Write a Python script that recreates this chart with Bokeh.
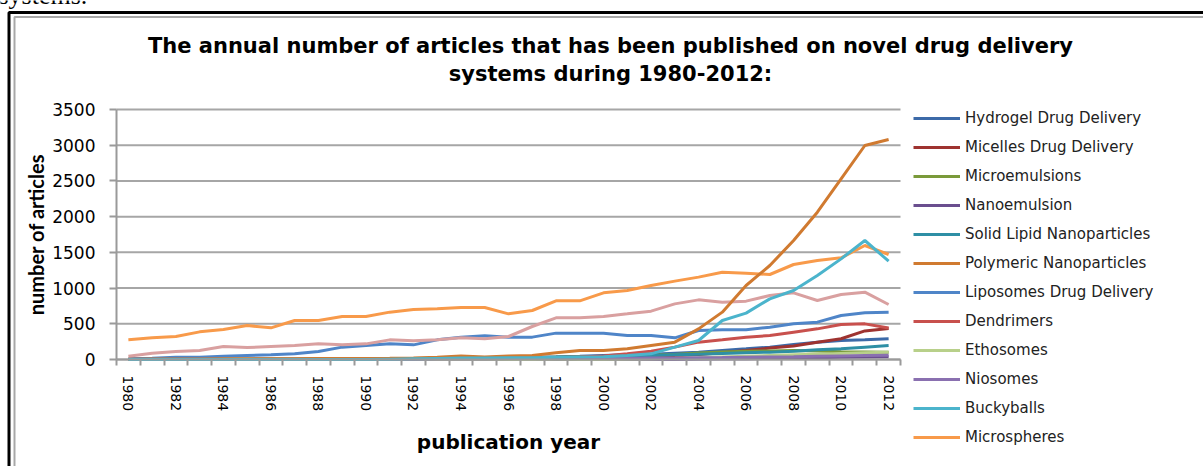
import numpy as np
from bokeh.plotting import figure
from bokeh.models import (FixedTicker, Legend, LegendItem, Label, BoxAnnotation,
                          ColumnDataSource)
from bokeh.embed import file_html
from bokeh.resources import INLINE

years = list(range(1980, 2013))

hydrogel = [2, 3, 3, 4, 5, 5, 6, 6, 7, 8, 10, 12, 14, 17, 20, 24, 28, 32, 38, 45,
            55, 65, 75, 89, 103, 126, 149, 173, 210, 243, 266, 275, 289]
micelles = [0, 0, 0, 0, 0, 0, 0, 0, 0, 1, 1, 2, 2, 3, 4, 5, 6, 8, 10, 13,
            18, 25, 35, 50, 70, 95, 125, 160, 190, 240, 290, 400, 435]
microemulsions = [1, 1, 2, 2, 3, 3, 4, 5, 6, 7, 8, 10, 12, 14, 16, 18, 22, 25, 30, 35,
                  40, 50, 60, 70, 90, 105, 115, 120, 125, 118, 110, 105, 100]
nanoemulsion = [0, 0, 0, 0, 0, 0, 0, 0, 0, 0, 0, 0, 0, 0, 0, 0, 1, 1, 1, 2,
                2, 3, 4, 5, 7, 9, 12, 16, 20, 25, 30, 35, 40]
solid_lipid = [0, 0, 0, 0, 0, 0, 0, 0, 0, 0, 0, 0, 1, 2, 3, 5, 8, 12, 18, 25,
               35, 45, 55, 65, 75, 85, 95, 103, 117, 135, 150, 173, 196]
polymeric = [5, 6, 7, 8, 9, 10, 11, 12, 13, 14, 15, 17, 20, 30, 50, 35, 50, 56, 93, 126,
             126, 149, 196, 243, 429, 663, 1036, 1316, 1666, 2062, 2529, 2996, 3080]
liposomes = [9, 19, 33, 33, 47, 56, 65, 79, 112, 173, 196, 219, 205, 275, 313, 331, 313, 313, 369, 369,
             369, 336, 336, 303, 406, 415, 415, 453, 499, 523, 616, 653, 663]
dendrimers = [0, 0, 0, 0, 0, 0, 0, 0, 0, 0, 0, 1, 2, 3, 5, 8, 12, 18, 25, 35,
              50, 79, 117, 173, 243, 275, 313, 336, 383, 429, 490, 499, 440]
ethosomes = [0, 0, 0, 0, 0, 0, 0, 0, 0, 0, 0, 0, 0, 0, 0, 0, 0, 1, 2, 3,
             5, 8, 12, 18, 25, 35, 45, 55, 65, 75, 85, 95, 100]
niosomes = [0, 0, 0, 0, 0, 0, 1, 1, 2, 2, 3, 4, 5, 6, 7, 8, 9, 10, 12, 14,
            16, 18, 20, 22, 25, 28, 32, 36, 40, 45, 50, 55, 60]
buckyballs = [0, 0, 0, 0, 0, 0, 0, 0, 0, 0, 0, 5, 10, 15, 20, 20, 25, 25, 30, 35,
              40, 55, 79, 173, 266, 546, 649, 849, 966, 1176, 1409, 1666, 1377]
microspheres = [276, 303, 322, 387, 420, 476, 443, 546, 546, 602, 602, 663, 700, 709, 728, 728,
                639, 686, 821, 821, 933, 966, 1036, 1097, 1153, 1222, 1208, 1190, 1330, 1386,
                1423, 1596, 1470]
unlabeled_pink = [47, 89, 112, 126, 182, 168, 182, 196, 219, 205, 219, 275, 261, 275, 303, 289,
                  322, 462, 583, 583, 602, 639, 677, 779, 835, 802, 817, 896, 933, 826, 910, 943, 770]

series_names = ["Hydrogel Drug Delivery", "Micelles Drug Delivery", "Microemulsions",
                "Nanoemulsion", "Solid Lipid Nanoparticles", "Polymeric Nanoparticles",
                "Liposomes Drug Delivery", "Dendrimers", "Ethosomes", "Niosomes",
                "Buckyballs", "Microspheres"]
series_values = [hydrogel, micelles, microemulsions, nanoemulsion, solid_lipid, polymeric,
                 liposomes, dendrimers, ethosomes, niosomes, buckyballs, microspheres]
series_colors = ["#3C6AA8", "#9E3330", "#7A9A3A", "#6A4E8E", "#2E8FA5", "#D07A30",
                 "#4F85C8", "#C8504D", "#B8D08A", "#8A70B0", "#4BB4CC", "#F89A4A"]
pink_color = "#D9A0A0"

y_ticks = [0, 500, 1000, 1500, 2000, 2500, 3000, 3500]
x_label_years = list(range(1980, 2013, 2))
title_lines = ["The annual number of articles that has been published on novel drug delivery",
               "systems during 1980-2012:"]

# ---- layout (pixels of the 1203x466 canvas) ----
W, H = 1203, 466
PL, PR, PT, PB = 116, 900, 109, 359        # plot-area edges
x0, x1 = years[0] - 0.5, years[-1] + 0.5
y0, y1 = y_ticks[0], y_ticks[-1]
xpp = (x1 - x0) / (PR - PL)                 # data units per pixel
ypp = (y1 - y0) / (PB - PT)
xr = (x0 - PL * xpp, x1 + (W - PR) * xpp)
yr = (y0 - (H - PB) * ypp, y1 + PT * ypp)

p = figure(width=W, height=H, output_backend="svg", toolbar_location=None,
           x_range=xr, y_range=yr, min_border=0)
p.title.visible = False
p.background_fill_color = "white"
p.border_fill_color = "white"
p.outline_line_color = None
p.xgrid.visible = False
p.ygrid.visible = False

GRID = "#A6A6A6"
AX = "#9A9A9A"
# horizontal gridlines limited to the plot area
p.segment(x0=[x0] * len(y_ticks), x1=[x1] * len(y_ticks), y0=y_ticks, y1=y_ticks,
          line_color=GRID, line_width=2)

# y axis
ya = p.yaxis[0]
ya.fixed_location = x0
ya.bounds = (y0, y1)
ya.ticker = FixedTicker(ticks=y_ticks)
ya.axis_line_color = AX
ya.axis_line_width = 2
ya.major_tick_line_color = AX
ya.major_tick_line_width = 2
ya.major_tick_out = 7
ya.major_tick_in = 0
ya.minor_tick_line_color = None
ya.major_label_standoff = 14
ya.major_label_text_font = "DejaVu Sans"
ya.major_label_text_font_size = "17px"
ya.major_label_text_color = "black"
ya.axis_label = "number of articles"
ya.axis_label_text_font = "Lato"
ya.axis_label_text_font_style = "bold"
ya.axis_label_text_font_size = "20px"
ya.axis_label_text_color = "black"
ya.axis_label_standoff = 1

# x axis
xa = p.xaxis[0]
xa.fixed_location = y0
xa.bounds = (x0, x1)
xa.ticker = FixedTicker(ticks=x_label_years,
                        minor_ticks=[yv - 0.5 for yv in years] + [x1])
xa.axis_line_color = AX
xa.axis_line_width = 2
xa.major_tick_out = 0
xa.major_tick_in = 0
xa.major_tick_line_color = None
xa.minor_tick_out = 6
xa.minor_tick_in = 0
xa.minor_tick_line_color = AX
xa.minor_tick_line_width = 2
xa.major_label_orientation = -np.pi / 2
xa.major_label_standoff = 10
xa.major_label_text_font = "DejaVu Sans"
xa.major_label_text_font_size = "14px"
xa.major_label_text_color = "black"
xa.axis_label = "publication year"
xa.axis_label_text_font = "DejaVu Sans"
xa.axis_label_text_font_style = "bold"
xa.axis_label_text_font_size = "20px"
xa.axis_label_text_color = "black"
xa.axis_label_standoff = 16

# lines
renderers = {}
for i in range(len(series_names)):
    src = ColumnDataSource(dict(x=years, y=series_values[i]))
    renderers[i] = p.line("x", "y", source=src, line_color=series_colors[i], line_width=3)
src_pink = ColumnDataSource(dict(x=years, y=unlabeled_pink))
p.line("x", "y", source=src_pink, line_color=pink_color, line_width=3)
for i in [11, 5, 10]:
    p.renderers.remove(renderers[i])
    p.renderers.append(renderers[i])

items = [LegendItem(label=series_names[i], renderers=[renderers[i]])
         for i in range(len(series_names))]
legend = Legend(items=items, location=(913, 19), orientation="vertical",
                border_line_color=None, background_fill_alpha=0,
                padding=0, margin=0, spacing=9, label_height=20, glyph_height=20,
                glyph_width=47, label_standoff=5,
                label_text_font="DejaVu Sans", label_text_font_size="15px",
                label_text_color="#222222")
p.add_layout(legend, "center")

# title (two lines)
for txt, yy in zip(title_lines, [45, 73]):
    p.add_layout(Label(x=610, y=yy, x_units="canvas", y_units="canvas", text=txt,
                       text_align="center", text_baseline="middle",
                       text_font="DejaVu Sans", text_font_style="bold",
                       text_font_size="21px", text_color="black"))

# document text cut at the top edge
p.add_layout(Label(x=-2, y=-5, x_units="canvas", y_units="canvas", text="systems.",
                   text_align="left", text_baseline="alphabetic",
                   text_font="Liberation Serif", text_font_size="26px",
                   text_color="black"))

# chart frame (double line, continues past the window)
p.add_layout(BoxAnnotation(left=8.5, right=W + 60, top=12, bottom=H + 60,
                           left_units="canvas", right_units="canvas",
                           top_units="canvas", bottom_units="canvas",
                           fill_color=None, fill_alpha=0, line_color="black",
                           line_alpha=1, line_width=3))
p.add_layout(BoxAnnotation(left=14, right=W + 50, top=16.5, bottom=H + 50,
                           left_units="canvas", right_units="canvas",
                           top_units="canvas", bottom_units="canvas",
                           fill_color=None, fill_alpha=0, line_color="#A8A8A8",
                           line_alpha=1, line_width=2))

open("out.html", "w").write(file_html(p, INLINE))
